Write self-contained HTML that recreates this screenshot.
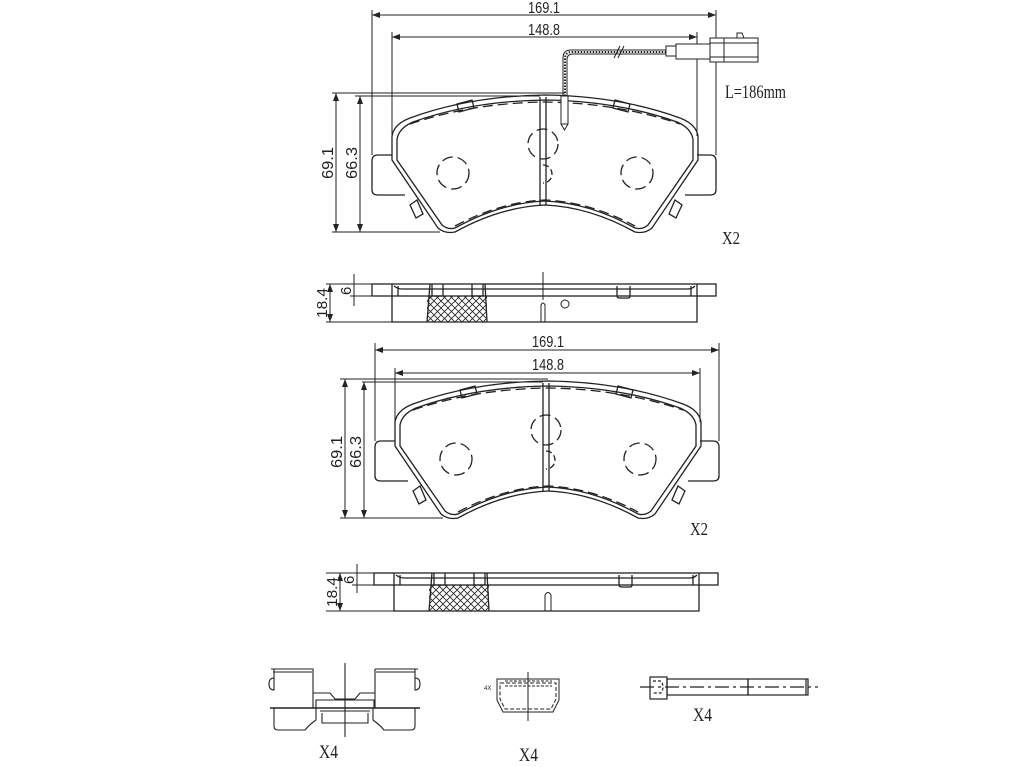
<!DOCTYPE html>
<html><head><meta charset="utf-8"><style>
html,body{margin:0;padding:0;background:#fff;}
svg{display:block;}
text{font-family:"Liberation Sans",sans-serif;fill:#222;}
.n{font-family:"Liberation Serif",serif;}
</style></head><body>
<svg width="1024" height="767" viewBox="0 0 1024 767" xmlns="http://www.w3.org/2000/svg">
<defs>
<pattern id="hx" width="7" height="7" patternUnits="userSpaceOnUse">
<path d="M0 0L7 7M7 0L0 7" stroke="#222" stroke-width="0.8"/>
</pattern>
<marker id="ar" markerWidth="8" markerHeight="6" refX="8" refY="3" orient="auto-start-reverse" markerUnits="userSpaceOnUse">
<path d="M0 0L8 3L0 6Z" fill="#222"/>
</marker>
<g id="pad" fill="none" stroke="#222" stroke-width="1.3">
<path d="M392 155 L378 155 Q372 155 372 161 L372 190 Q372 195 378 195 L405 195"/>
<path d="M697 155 L710 155 Q716 155 716 161 L716 190 Q716 195 710 195 L685 195"/>
<path d="M392 150 L392 136 Q394 124 410 118 Q470 96 545 95 Q620 96 680 118 Q696 124 698 136 L698 160 L652 228 Q645 234 635 232 Q590 207 545 205 Q500 207 455 232 Q445 234 438 228 L392 160 Z"/>
<path d="M397 150 L397 139 Q399 128 413 122 Q472 101 545 100 Q618 101 677 122 Q691 128 693 139 L693 160 L648 225 Q642 230 635 228 Q590 203 545 201 Q500 203 455 228 Q448 230 442 225 L397 160 Z"/>
<path d="M410 124 Q472 103 545 102 Q618 103 680 124" stroke-dasharray="10 5"/>
<path d="M455 226 Q500 202 545 200 Q590 202 635 226" stroke-dasharray="10 5"/>
<path d="M457 104 L472 100 L474 108 L459 112 Z"/>
<path d="M615 100 L630 104 L628 112 L613 108 Z"/>
<path d="M410 205 L417 200 L423 214 L416 218 Z"/>
<path d="M675 200 L682 205 L676 218 L669 214 Z"/>
<path d="M540 97 L540 205 M546 97 L546 205"/>
<circle cx="453" cy="173" r="16" stroke-dasharray="11 5"/>
<circle cx="637" cy="173" r="16" stroke-dasharray="11 5"/>
<circle cx="543" cy="144" r="15" stroke-dasharray="11 5"/>
<path d="M543 165 A9 9 0 1 1 543 183" stroke-dasharray="6 3"/>
</g>
<g id="side" fill="none" stroke="#222" stroke-width="1.3">
<rect x="372" y="284" width="344" height="12"/>
<path d="M392 284 L392 322 L697 322 L697 284"/>
<path d="M398 286 L398 296 M691 286 L691 296"/>
<path d="M394 286 Q398 289 402 289 L688 289 Q692 289 695 286"/>
<rect x="427" y="296" width="60" height="26" fill="url(#hx)" stroke="none"/>
<path d="M430 284 L427 322 M485 284 L487 322"/>
<path d="M432 284 L432 296 L443 296 L443 284 M472 284 L472 296 L483 296 L483 284"/>
<path d="M617 286 L617 296 Q617 298 620 298 L628 298 Q630 298 630 296 L630 286"/>
</g>
</defs>

<use href="#pad"/>
<g fill="none" stroke="#222" stroke-width="1">
<line x1="372" y1="10" x2="372" y2="155"/>
<line x1="716" y1="10" x2="716" y2="155"/>
<line x1="372" y1="15" x2="716" y2="15" marker-start="url(#ar)" marker-end="url(#ar)"/>
<line x1="392" y1="32" x2="392" y2="136"/>
<line x1="697" y1="32" x2="697" y2="136"/>
<line x1="392" y1="37" x2="697" y2="37" marker-start="url(#ar)" marker-end="url(#ar)"/>
<line x1="332" y1="93" x2="565" y2="93"/>
<line x1="355" y1="96" x2="540" y2="96"/>
<line x1="332" y1="232" x2="440" y2="232"/>
<line x1="336" y1="93" x2="336" y2="232" marker-start="url(#ar)" marker-end="url(#ar)"/>
<line x1="360" y1="96" x2="360" y2="232" marker-start="url(#ar)" marker-end="url(#ar)"/>
</g>
<g fill="none" stroke="#222" stroke-width="1">
<path d="M563 96 L563 58 Q563 50 571 50 L666 50 M567 96 L567 60 Q567 54 573 54 L666 54"/>
<path d="M565 96 L565 59 Q565 52 572 52 L666 52" stroke-dasharray="1.5 1.5" stroke-width="2"/>
<path d="M614 58 L620 46 M618 58 L624 46"/>
<rect x="561" y="96" width="7" height="28" fill="#fff"/>
<path d="M561 124 L564.5 130 L568 124"/>
<rect x="666" y="46" width="10" height="10" fill="#fff"/>
<rect x="676" y="44" width="34" height="15" fill="#fff"/>
<rect x="710" y="38" width="48" height="24" fill="#fff"/>
<path d="M710 43 L758 43 M710 57 L758 57 M724 38 L724 62"/>
<path d="M737 38 L737 33 L742 33 L744 38"/>
</g>
<text class="n" x="725" y="98" font-size="19" textLength="61" lengthAdjust="spacingAndGlyphs">L=186mm</text>
<text class="n" x="722" y="244" font-size="18" textLength="18" lengthAdjust="spacingAndGlyphs">X2</text>
<text x="528" y="13" font-size="16" textLength="32" lengthAdjust="spacingAndGlyphs">169.1</text>
<text x="528" y="35" font-size="16" textLength="32" lengthAdjust="spacingAndGlyphs">148.8</text>
<text x="0" y="0" font-size="16" textLength="32" lengthAdjust="spacingAndGlyphs" transform="translate(333,179) rotate(-90)">69.1</text>
<text x="0" y="0" font-size="16" textLength="32" lengthAdjust="spacingAndGlyphs" transform="translate(357,179) rotate(-90)">66.3</text>

<use href="#side"/>
<g fill="none" stroke="#222" stroke-width="1">
<line x1="543" y1="272" x2="543" y2="300"/>
<path d="M541 322 L541 305 Q543 301 545 305 L545 322"/>
<circle cx="565" cy="304" r="4"/>
<line x1="326" y1="284" x2="372" y2="284"/>
<line x1="326" y1="322" x2="392" y2="322"/>
<line x1="350" y1="296" x2="372" y2="296"/>
<line x1="330" y1="284" x2="330" y2="322" marker-start="url(#ar)" marker-end="url(#ar)"/>
<line x1="354" y1="274" x2="354" y2="306"/>
</g>
<text x="0" y="0" font-size="15" textLength="30" lengthAdjust="spacingAndGlyphs" transform="translate(327,318) rotate(-90)">18.4</text>
<text x="0" y="0" font-size="15" transform="translate(351,295) rotate(-90)">6</text>

<use href="#pad" transform="translate(3,286)"/>
<g fill="none" stroke="#222" stroke-width="1">
<line x1="375" y1="343" x2="375" y2="441"/>
<line x1="719" y1="343" x2="719" y2="441"/>
<line x1="375" y1="350" x2="719" y2="350" marker-start="url(#ar)" marker-end="url(#ar)"/>
<line x1="395" y1="368" x2="395" y2="422"/>
<line x1="700" y1="368" x2="700" y2="422"/>
<line x1="395" y1="373" x2="700" y2="373" marker-start="url(#ar)" marker-end="url(#ar)"/>
<line x1="340" y1="379" x2="548" y2="379"/>
<line x1="362" y1="382" x2="543" y2="382"/>
<line x1="340" y1="518" x2="443" y2="518"/>
<line x1="345" y1="379" x2="345" y2="518" marker-start="url(#ar)" marker-end="url(#ar)"/>
<line x1="364" y1="382" x2="364" y2="518" marker-start="url(#ar)" marker-end="url(#ar)"/>
</g>
<text x="532" y="347" font-size="16" textLength="32" lengthAdjust="spacingAndGlyphs">169.1</text>
<text x="532" y="370" font-size="16" textLength="32" lengthAdjust="spacingAndGlyphs">148.8</text>
<text x="0" y="0" font-size="16" textLength="32" lengthAdjust="spacingAndGlyphs" transform="translate(342,468) rotate(-90)">69.1</text>
<text x="0" y="0" font-size="16" textLength="32" lengthAdjust="spacingAndGlyphs" transform="translate(361,468) rotate(-90)">66.3</text>
<text class="n" x="690" y="535" font-size="18" textLength="18" lengthAdjust="spacingAndGlyphs">X2</text>

<use href="#side" transform="translate(2,289)"/>
<g fill="none" stroke="#222" stroke-width="1">
<path d="M545 611 L545 595 Q548 590 551 595 L551 611"/>
<line x1="326" y1="573" x2="374" y2="573"/>
<line x1="326" y1="611" x2="394" y2="611"/>
<line x1="352" y1="585" x2="374" y2="585"/>
<line x1="340" y1="573" x2="340" y2="611" marker-start="url(#ar)" marker-end="url(#ar)"/>
<line x1="357" y1="564" x2="357" y2="593"/>
</g>
<text x="0" y="0" font-size="15" textLength="30" lengthAdjust="spacingAndGlyphs" transform="translate(337,607) rotate(-90)">18.4</text>
<text x="0" y="0" font-size="15" transform="translate(354,584) rotate(-90)">6</text>

<g fill="none" stroke="#222" stroke-width="1.1">
<line x1="345" y1="663" x2="345" y2="737"/>
<path d="M271 669 L313 669 L313 708 M273 672 L312 672"/>
<path d="M274 669 L274 690 Q269 690 269 684 Q269 678 274 678"/>
<path d="M274 708 L274 726 Q274 730 278 730 L305 730 Q310 724 316 720 L316 708"/>
<path d="M375 669 L418 669 M376 672 L415 672 M375 669 L375 708"/>
<path d="M415 669 L415 690 Q420 690 420 684 Q420 678 415 678"/>
<path d="M415 708 L415 726 Q415 730 411 730 L384 730 Q379 724 373 720 L373 708"/>
<path d="M313 693 L330 693 L335 699 L355 699 L360 693 L375 693"/>
<path d="M316 708 L316 700 L374 700 L374 708"/>
<path d="M320 711 L370 711 M322 713 L322 723 L368 723 L368 713"/>
<line x1="270" y1="708" x2="420" y2="708" stroke-width="1.5"/>
</g>
<text class="n" x="319" y="758" font-size="19" textLength="19" lengthAdjust="spacingAndGlyphs">X4</text>

<g fill="none" stroke="#222" stroke-width="1">
<path d="M497 679 L559 679 L559 700 L553 712 L503 712 L497 700 Z"/>
<path d="M500 683 L556 683 L556 699 L551 709 L505 709 L500 699 Z" stroke-dasharray="4 2"/>
<path d="M505 681 L552 681 M505 686 L552 686" stroke-dasharray="3 1.5"/>
<line x1="528" y1="672" x2="528" y2="721"/>
</g>
<text x="484" y="690" font-size="6">4X</text>
<text class="n" x="519" y="761" font-size="19" textLength="19" lengthAdjust="spacingAndGlyphs">X4</text>

<g fill="none" stroke="#222" stroke-width="1.2">
<rect x="650" y="677" width="17" height="22"/>
<path d="M653 681 L661 681 Q665 687 661 693 L653 693" stroke-dasharray="3 2"/>
<rect x="667" y="679" width="81" height="16"/>
<rect x="748" y="679" width="60" height="16"/>
<path d="M806 679 L806 695"/>
<line x1="640" y1="687" x2="818" y2="687" stroke-dasharray="14 4 3 4"/>
</g>
<text class="n" x="693" y="721" font-size="19" textLength="19" lengthAdjust="spacingAndGlyphs">X4</text>
</svg>
</body></html>
